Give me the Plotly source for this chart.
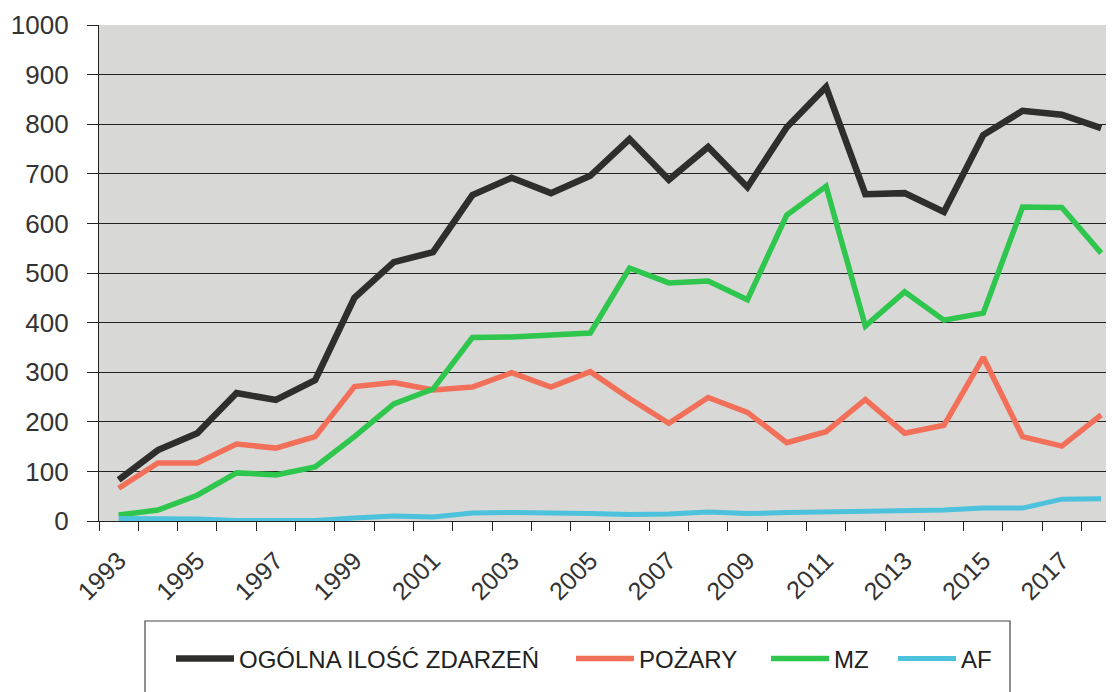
import plotly.graph_objects as go

years = list(range(1993, 2019))
ogolna = [83, 143, 177, 258, 244, 284, 450, 522, 542, 657, 692, 661, 696, 770, 688, 754, 673, 794, 875, 659, 661, 623, 778, 827, 819, 792]
pozary = [66, 117, 117, 155, 147, 170, 271, 279, 264, 270, 299, 270, 301, 247, 197, 249, 219, 158, 180, 245, 177, 193, 330, 170, 151, 214]
mz = [12, 22, 52, 97, 93, 109, 170, 236, 266, 370, 371, 375, 379, 510, 480, 484, 446, 617, 675, 393, 462, 405, 419, 633, 632, 540]
af = [5, 5, 4, 1, 0, 1, 6, 10, 8, 16, 17, 17, 15, 13, 14, 18, 15, 17, 18, 19, 20, 22, 26, 26, 44, 45]
label_years = list(range(1993, 2019, 2))
series_names = ["OGÓLNA ILOŚĆ ZDARZEŃ", "POŻARY", "MZ", "AF"]

colors = ["#2e2e2c", "#f2705a", "#2fc64e", "#4cc2dc"]
widths = [6.5, 5.5, 5.5, 5]
legw = [327, 122, 54, 40]

fig = go.Figure()
for name, vals, c, w, lw in zip(series_names, [ogolna, pozary, mz, af], colors, widths, legw):
    fig.add_trace(go.Scatter(x=years, y=vals, mode="lines", name=name,
                             line=dict(color=c, width=w), legendwidth=lw))

OFF = 8  # default page body margin
W, H = 1114 - OFF, 692 - OFF
L, R, T = 99 - OFF, 0, 25 - OFF
B = H - (521 - OFF)
pw, ph = W - L - R, H - T - B

def px_x(p):
    return (p - OFF - L) / pw

def px_y(p):
    return (521 - p) / ph

fig.add_shape(type="rect", xref="paper", yref="paper",
              x0=px_x(145), x1=px_x(1010), y0=px_y(710), y1=px_y(621),
              line=dict(color="#444", width=1.2), fillcolor="rgba(0,0,0,0)")

fig.update_layout(
    width=W, height=H,
    margin=dict(l=L, r=R, t=T, b=B, autoexpand=False),
    paper_bgcolor="white",
    plot_bgcolor="#d8d8d6",
    font=dict(family="Liberation Sans, Arial, sans-serif", color="#222"),
    showlegend=True,
    legend=dict(orientation="h", x=px_x(171), xanchor="left", y=px_y(659), yanchor="middle",
                font=dict(size=24, color="#222"), itemwidth=58, bgcolor="rgba(0,0,0,0)",
                traceorder="normal"),
    xaxis=dict(range=[1992.5, 1992.5 + pw / 39.3], tickmode="array", tickvals=label_years,
               ticktext=[str(y) for y in label_years], tickangle=-45, ticks="",
               tickfont=dict(size=25, color="#333"), showgrid=False, zeroline=False, automargin=False,
               ticklabelstandoff=14,
               showline=True, linecolor="#222", linewidth=1.2,
               minor=dict(tick0=1992.5, dtick=1, ticks="outside", ticklen=9, tickcolor="#222", showgrid=False)),
    yaxis=dict(range=[0, 1000], tickmode="linear", tick0=0, dtick=100, ticks="outside",
               ticklen=11, tickcolor="#222", tickfont=dict(size=26, color="#333"), automargin=False,
               ticklabelstandoff=13,
               showgrid=True, gridcolor="#222", gridwidth=1, zeroline=False,
               showline=True, linecolor="#222", linewidth=1.2),
)

fig.write_html("out.html")
